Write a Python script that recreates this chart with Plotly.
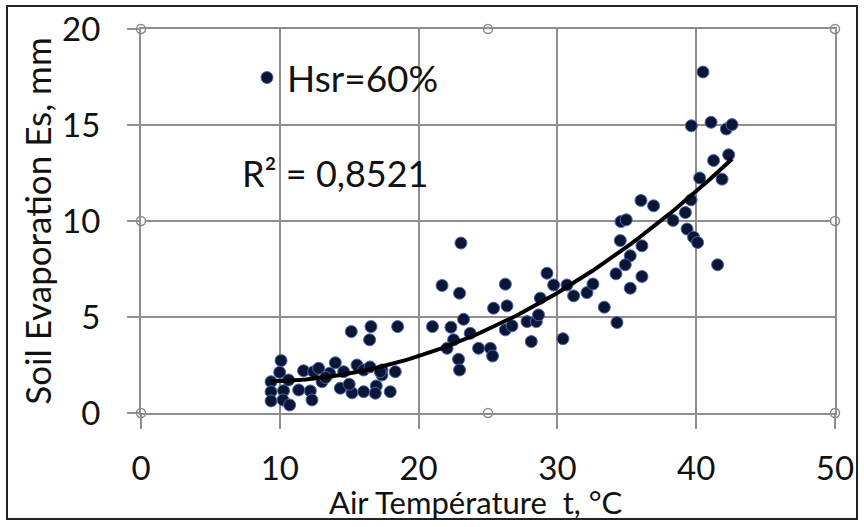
import numpy as np
import plotly.graph_objects as go

# ---- data ----
air_temp = [
    10.09, 9.99, 9.37, 9.37, 9.37, 10.27, 10.23, 10.71, 10.63, 11.36,
    11.71, 12.20, 12.32, 12.44, 12.80, 13.04, 13.59, 14.00, 14.36, 14.60,
    15.15, 15.20, 16.57, 16.47, 18.49, 21.00, 15.56, 16.04, 17.36, 18.32,
    16.04, 16.95, 16.88, 17.96, 17.36, 15.00, 13.30, 16.50, 17.24,
    23.05, 21.69, 22.95, 26.25, 25.40, 26.37, 29.25, 29.73, 28.77, 22.33,
    23.24, 22.52, 22.05, 23.72, 22.88, 22.95, 24.32, 25.17, 25.33, 26.25,
    26.73, 27.81, 28.48, 28.64, 28.12, 30.40,
    36.02, 36.93, 34.58, 34.96, 38.33, 34.53, 36.09, 35.25, 34.89, 34.22,
    36.09, 35.25, 30.69, 31.17, 32.13, 32.56, 33.38, 34.29,
    40.49, 39.65, 41.07, 42.17, 42.58, 42.34, 41.25, 40.25, 41.86, 39.63,
    39.22, 39.34, 39.81, 40.10, 41.54,
]
soil_evap = [
    2.73, 2.12, 1.63, 1.11, 0.63, 1.16, 0.68, 0.42, 1.72, 1.20,
    2.20, 1.15, 0.68, 2.15, 2.33, 1.63, 2.07, 2.62, 1.29, 2.15,
    4.24, 1.05, 4.50, 3.81, 4.50, 4.50, 2.50, 2.24, 2.24, 2.15,
    1.11, 1.41, 1.03, 1.11, 1.98, 1.50, 1.85, 2.40, 2.15,
    8.85, 6.64, 6.24, 6.71, 5.46, 5.58, 7.28, 6.67, 5.98, 4.47,
    4.88, 3.81, 3.37, 4.15, 2.80, 2.24, 3.37, 3.37, 2.97, 4.33,
    4.54, 4.76, 4.76, 5.11, 3.72, 3.87,
    11.07, 10.79, 9.97, 10.06, 10.03, 8.98, 8.71, 8.19, 7.72, 7.25,
    7.11, 6.50, 6.67, 6.10, 6.27, 6.72, 5.51, 4.71,
    17.76, 14.96, 15.14, 14.79, 15.02, 13.45, 13.15, 12.24, 12.18, 11.10,
    10.44, 9.58, 9.16, 8.88, 7.72,
]
series_name = "Hsr=60%"
r2_label = "R² = 0,8521"
x_title = "Air Température  t, °C"
y_title = "Soil Evaporation Es, mm"
x_ticks = [0, 10, 20, 30, 40, 50]
y_ticks = [0, 5, 10, 15, 20]
handle_x = [0, 25, 50, 0, 50, 0, 25, 50]
handle_y = [20, 20, 20, 10, 10, 0, 0, 0]

FONT = "Lato"
GRID = "#8e8e8e"
TXT = "#111111"

# second-order polynomial trendline fitted to the data
coef = np.polyfit(air_temp, soil_evap, 2)
fit_x = np.linspace(min(air_temp), max(air_temp), 120)
fit_y = np.polyval(coef, fit_x)

fig = go.Figure()
fig.add_trace(go.Scatter(
    x=air_temp, y=soil_evap, mode="markers", name=series_name,
    marker=dict(size=12, color="#0b1536", line=dict(color="#4d69ad", width=1)),
))
fig.add_trace(go.Scatter(
    x=fit_x, y=fit_y, mode="lines", showlegend=False, hoverinfo="skip",
    line=dict(color="#000000", width=4),
))
fig.add_trace(go.Scatter(
    x=handle_x, y=handle_y, mode="markers", showlegend=False, hoverinfo="skip",
    cliponaxis=False,
    marker=dict(size=9, color="white", line=dict(color="#8a8a8a", width=1.5)),
))

fig.add_annotation(x=14.0, y=12.5, xref="x", yref="y", text=r2_label,
                   showarrow=False, font=dict(family=FONT, size=36, color=TXT))
fig.add_annotation(x=(476 - 141) / 694, y=(413 - 502) / 384, xref="paper", yref="paper",
                   text=x_title, showarrow=False, xanchor="center", yanchor="middle",
                   font=dict(family=FONT, size=31, color=TXT))

fig.add_shape(type="rect", xref="paper", yref="paper",
              x0=(7 - 141) / 694, x1=(857 - 141) / 694,
              y0=(413 - 519) / 384, y1=(413 - 6) / 384,
              line=dict(color="#222222", width=2), fillcolor="rgba(0,0,0,0)", layer="below")

fig.update_layout(
    width=864, height=527,
    margin=dict(l=141, r=29, t=29, b=114, autoexpand=False),
    paper_bgcolor="white", plot_bgcolor="white",
    font=dict(family=FONT, size=33, color=TXT),
    showlegend=True,
    legend=dict(x=(247 - 141) / 694, y=(413 - 78) / 384, xanchor="left", yanchor="middle",
                bgcolor="rgba(0,0,0,0)", font=dict(family=FONT, size=37, color=TXT),
                itemsizing="trace"),
    xaxis=dict(
        range=[0, 50], tickvals=x_ticks, showgrid=True, gridcolor=GRID, gridwidth=2,
        zeroline=False, showline=True, mirror=True, linecolor=GRID, linewidth=2,
        ticks="outside", ticklen=14, tickwidth=2, tickcolor=GRID,
        ticklabelstandoff=11, automargin=False,
        tickfont=dict(family=FONT, size=33, color=TXT),
    ),
    yaxis=dict(
        range=[0, 20], tickvals=y_ticks, showgrid=True, gridcolor=GRID, gridwidth=2,
        zeroline=False, showline=True, mirror=True, linecolor=GRID, linewidth=2,
        ticks="outside", ticklen=12, tickwidth=2, tickcolor=GRID,
        ticklabelstandoff=20, automargin=False,
        title=dict(text=y_title, standoff=0,
                   font=dict(family=FONT, size=35, color=TXT)),
    ),
)

fig.write_html("out.html", config={"displayModeBar": False},
               post_script="document.body.style.margin='0';")
